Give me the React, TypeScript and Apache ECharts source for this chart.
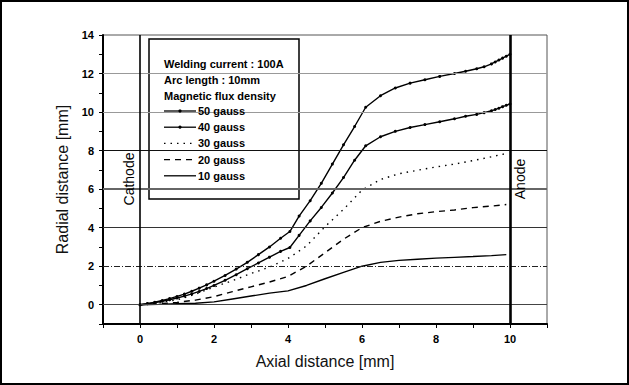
import React, { useEffect, useRef } from "react";
import * as echarts from "echarts";

// ---- data ----
const x50 = [0, 0.2, 0.4, 0.6, 0.8, 1.0, 1.2, 1.4, 1.6, 1.8, 2.0, 2.3, 2.6, 2.9, 3.2, 3.5, 3.8, 4.05, 4.3, 4.6, 4.9, 5.2, 5.5, 5.8, 6.1, 6.5, 6.9, 7.3, 7.7, 8.1, 8.5, 8.8, 9.1, 9.3, 9.5, 9.6, 9.7, 9.8, 9.9, 10.0];
const y50 = [0, 0.06, 0.13, 0.22, 0.32, 0.43, 0.55, 0.7, 0.86, 1.03, 1.22, 1.52, 1.85, 2.2, 2.6, 3.0, 3.45, 3.8, 4.6, 5.4, 6.3, 7.3, 8.3, 9.25, 10.25, 10.85, 11.25, 11.5, 11.68, 11.85, 12.0, 12.12, 12.25, 12.35, 12.5, 12.6, 12.7, 12.8, 12.9, 13.0];
const x40 = [0, 0.2, 0.4, 0.6, 0.8, 1.0, 1.2, 1.4, 1.6, 1.8, 2.0, 2.3, 2.6, 2.9, 3.2, 3.5, 3.8, 4.05, 4.3, 4.6, 4.9, 5.2, 5.5, 5.8, 6.1, 6.5, 6.9, 7.3, 7.7, 8.1, 8.5, 8.8, 9.1, 9.3, 9.5, 9.6, 9.7, 9.8, 9.9, 10.0];
const y40 = [0, 0.05, 0.11, 0.18, 0.26, 0.35, 0.45, 0.56, 0.69, 0.84, 1.0, 1.27, 1.56, 1.87, 2.17, 2.47, 2.77, 2.97, 3.6, 4.35, 5.05, 5.8, 6.6, 7.5, 8.25, 8.72, 9.0, 9.2, 9.35, 9.5, 9.65, 9.78, 9.88, 9.97, 10.07, 10.13, 10.2, 10.28, 10.35, 10.42];
const x30 = [0, 0.5, 1, 1.5, 2, 2.5, 3, 3.5, 4, 4.5, 5, 5.5, 6, 6.5, 7, 7.5, 8, 8.5, 9, 9.5, 9.9];
const y30 = [0, 0.1, 0.25, 0.55, 0.92, 1.25, 1.62, 1.95, 2.4, 3.05, 4.05, 4.95, 5.95, 6.5, 6.8, 6.98, 7.15, 7.3, 7.48, 7.68, 7.85];
const x20 = [0, 0.5, 1, 1.5, 2, 2.5, 3, 3.5, 4, 4.5, 5, 5.5, 6, 6.5, 7, 7.5, 8, 8.5, 9, 9.5, 9.9];
const y20 = [0, 0.05, 0.12, 0.24, 0.42, 0.68, 0.93, 1.18, 1.47, 2.0, 2.7, 3.4, 4.0, 4.33, 4.55, 4.72, 4.83, 4.92, 5.04, 5.12, 5.2];
const x10 = [0, 0.5, 1, 1.5, 2, 2.5, 3, 3.5, 4, 4.5, 5, 5.5, 6, 6.5, 7, 7.5, 8, 8.5, 9, 9.5, 9.9];
const y10 = [0, 0.02, 0.05, 0.08, 0.15, 0.3, 0.45, 0.6, 0.72, 1.0, 1.35, 1.68, 2.0, 2.2, 2.3, 2.36, 2.42, 2.46, 2.5, 2.55, 2.6];

const seriesNames = ["50 gauss", "40 gauss", "30 gauss", "20 gauss", "10 gauss"];
const headerLines = ["Welding current : 100A", "Arc length : 10mm", "Magnetic flux density"];
const gridValues = [0, 2, 4, 6, 8, 10, 12];
const electrodeX = [0, 10];
const electrodeNames = ["Cathode", "Anode"];

const pairs = (xs: number[], ys: number[]) => xs.map((x, i) => [x, ys[i]]);

const FONT = "Liberation Sans, Arial, sans-serif";

const gridStyles = [
  { color: "#444", width: 1, type: "solid" },
  { color: "#222", width: 1, type: [6, 2, 1, 2] },
  { color: "#333", width: 1, type: "solid" },
  { color: "#666", width: 2, type: "solid" },
  { color: "#111", width: 1, type: "solid" },
  { color: "#999", width: 1, type: "solid" },
  { color: "#999", width: 1, type: "solid" },
];

// line styles per series (dash arrays), shared by curves and legend samples
const dashes: (number[] | null)[] = [null, null, [1.5, 5], [6, 5], null];
const hasMarker = [true, true, false, false, false];

export default function App() {
  const ref = useRef<HTMLDivElement>(null);
  useEffect(() => {
    document.body.style.margin = "0";
    const chart = echarts.init(ref.current!, undefined, { renderer: "svg" });
    const allData = [pairs(x50, y50), pairs(x40, y40), pairs(x30, y30), pairs(x20, y20), pairs(x10, y10)];
    const curveSeries = allData.map((d, i) => ({
      type: "line",
      name: seriesNames[i],
      data: d,
      z: 3,
      silent: true,
      symbol: hasMarker[i] ? "circle" : "none",
      symbolSize: 3,
      showSymbol: hasMarker[i],
      itemStyle: { color: "#000" },
      lineStyle: { color: "#000", width: 1.4, type: dashes[i] ?? "solid" },
    }));

    const legendTop = 111;
    const legendStep = 16.2;
    const legendGraphics: any[] = [];
    seriesNames.forEach((name, i) => {
      const y = legendTop + i * legendStep;
      legendGraphics.push({
        type: "line",
        z: 6,
        silent: true,
        shape: { x1: 164, y1: y, x2: 196, y2: y },
        style: { stroke: "#000", lineWidth: 1.3, lineDash: dashes[i] ?? null },
      });
      if (hasMarker[i]) {
        legendGraphics.push({
          type: "circle",
          z: 7,
          silent: true,
          shape: { cx: 180, cy: y, r: 1.6 },
          style: { fill: "#000" },
        });
      }
      legendGraphics.push({
        type: "text",
        z: 6,
        silent: true,
        x: 198,
        y: y,
        style: { text: name, fill: "#000", font: `bold 11px ${FONT}`, textAlign: "left", textVerticalAlign: "middle" },
      });
    });

    const option: any = {
      animation: false,
      backgroundColor: "#fff",
      textStyle: { fontFamily: FONT },
      grid: { left: 103, right: 82, top: 35, bottom: 61, show: true, borderColor: "#555", borderWidth: 1 },
      xAxis: {
        type: "value",
        min: -1,
        max: 11,
        interval: 1,
        name: "Axial distance [mm]",
        nameLocation: "middle",
        nameGap: 29,
        nameTextStyle: { fontFamily: FONT, fontSize: 16, color: "#111" },
        axisLine: { show: true, onZero: false, lineStyle: { color: "#000", width: 2 } },
        axisTick: { show: true, length: 4, lineStyle: { color: "#000", width: 1 } },
        axisLabel: {
          margin: 9,
          fontFamily: FONT,
          fontSize: 11,
          fontWeight: "bold",
          color: "#000",
          formatter: (v: number) => (v >= 0 && v <= 10 && v % 2 === 0 ? String(v) : ""),
        },
        splitLine: { show: false },
      },
      yAxis: {
        type: "value",
        min: -1,
        max: 14,
        interval: 1,
        name: "Radial distance [mm]",
        nameLocation: "middle",
        nameGap: 33,
        nameTextStyle: { fontFamily: FONT, fontSize: 16, color: "#111" },
        axisLine: { show: true, onZero: false, lineStyle: { color: "#000", width: 2 } },
        axisTick: { show: true, length: 4, lineStyle: { color: "#000", width: 1 } },
        axisLabel: {
          margin: 9,
          fontFamily: FONT,
          fontSize: 11,
          fontWeight: "bold",
          color: "#000",
          formatter: (v: number) => (v >= 0 && v % 2 === 0 ? String(v) : ""),
        },
        splitLine: { show: false },
      },
      series: [
        {
          name: "gridlines",
          type: "line",
          data: [],
          z: 1,
          silent: true,
          markLine: {
            silent: true,
            symbol: "none",
            label: { show: false },
            data: [
              ...gridValues.map((v, i) => ({ yAxis: v, lineStyle: gridStyles[i] })),
              ...electrodeX.map((v, i) => ({ xAxis: v, lineStyle: { color: "#000", width: i === 0 ? 1.6 : 2.6, type: "solid" } })),
            ],
          },
        },
        ...curveSeries,
      ],
      graphic: [
        {
          type: "rect",
          z: 0,
          silent: true,
          shape: { x: 1, y: 1, width: 627, height: 383 },
          style: { fill: "none", stroke: "#000", lineWidth: 2 },
        },
        {
          type: "rect",
          z: 4,
          silent: true,
          shape: { x: 149, y: 39, width: 150, height: 160 },
          style: { fill: "#fff", stroke: "#000", lineWidth: 1.5 },
        },
        ...headerLines.map((t, i) => ({
          type: "text",
          z: 6,
          silent: true,
          x: 164,
          y: 63.5 + i * 16,
          style: { text: t, fill: "#000", font: `bold 11px ${FONT}`, textAlign: "left", textVerticalAlign: "middle" },
        })),
        ...legendGraphics,
        ...electrodeNames.map((t, i) => ({
          type: "text",
          z: 6,
          silent: true,
          x: i === 0 ? 129 : 520,
          y: 179,
          rotation: Math.PI / 2,
          style: { text: t, fill: "#000", font: `14px ${FONT}`, textAlign: "center", textVerticalAlign: "middle" },
        })),
      ],
    };
    chart.setOption(option);
    return () => chart.dispose();
  }, []);
  return <div ref={ref} style={{ width: 629, height: 385 }} />;
}
